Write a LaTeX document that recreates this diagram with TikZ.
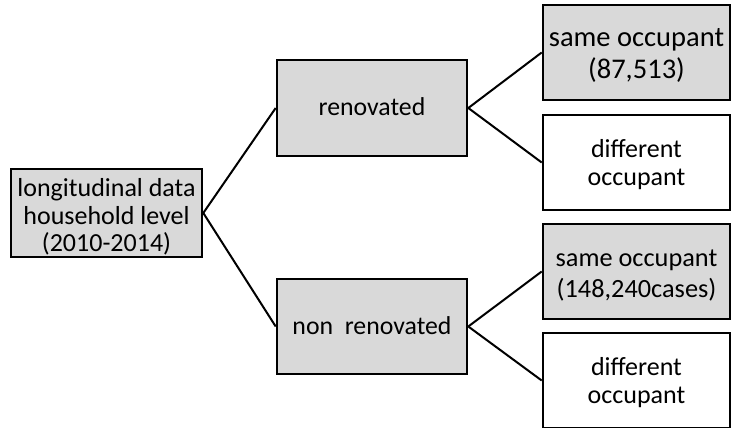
\documentclass[tikz,border=0pt]{standalone}
\usepackage{fontspec}
\setmainfont{Carlito}
\begin{document}
\begin{tikzpicture}[x=1pt,y=-1pt,
  box/.style={draw=black,line width=2.6pt,inner sep=0pt},
  grey/.style={box,fill=black!15},
  white/.style={box,fill=white},
  txt/.style={align=center,inner sep=0pt,text=black},
  f26/.style={font=\fontsize{26}{28.3}\selectfont},
  link/.style={draw=black,line width=2pt}]
\useasboundingbox (0,0) rectangle (731,428);
% boxes
\node[grey,minimum width=191pt,minimum height=88pt] (root) at (106.5,213) {};
\node[grey,minimum width=190pt,minimum height=96pt] (ren) at (372,108) {};
\node[grey,minimum width=190pt,minimum height=95pt] (non) at (372,326.5) {};
\node[grey,minimum width=187pt,minimum height=95pt] (s1) at (636.5,52.5) {};
\node[white,minimum width=187pt,minimum height=95pt] (d1) at (636.5,162.5) {};
\node[grey,minimum width=187pt,minimum height=95pt] (s2) at (636.5,271.5) {};
\node[white,minimum width=187pt,minimum height=95pt] (d2) at (636.5,380.5) {};
% texts
\node[txt,font=\fontsize{26}{27.5}\selectfont] (root-t) at ([yshift=-4pt]root.center) {longitudinal data\\household level\\(2010-2014)};
\node[txt,font=\fontsize{25.8}{30}\selectfont] (ren-t) at ([yshift=1pt]ren.center) {renovated};
\node[txt,font=\fontsize{25.8}{30}\selectfont] (non-t) at ([yshift=1pt]non.center) {non\ \ renovated};
\node[txt,font=\fontsize{28.5}{31.5}\selectfont] (s1-t) at ([yshift=-3pt]s1.center) {same occupant\\(87,513)};
\node[txt,f26] (d1-t) at ([yshift=-2pt]d1.center) {different\\occupant};
\node[txt,font=\fontsize{26.3}{31.2}\selectfont] (s2-t) at ([yshift=-4pt]s2.center) {same occupant\\(148,240cases)};
\node[txt,f26] (d2-t) at ([yshift=-2pt]d2.center) {different\\occupant};
% connectors
\draw[link] (root.east) -- (ren.west);
\draw[link] (root.east) -- (non.west);
\draw[link] (ren.east) -- (s1.west);
\draw[link] (ren.east) -- (d1.west);
\draw[link] (non.east) -- (s2.west);
\draw[link] (non.east) -- (d2.west);
\end{tikzpicture}
\end{document}
